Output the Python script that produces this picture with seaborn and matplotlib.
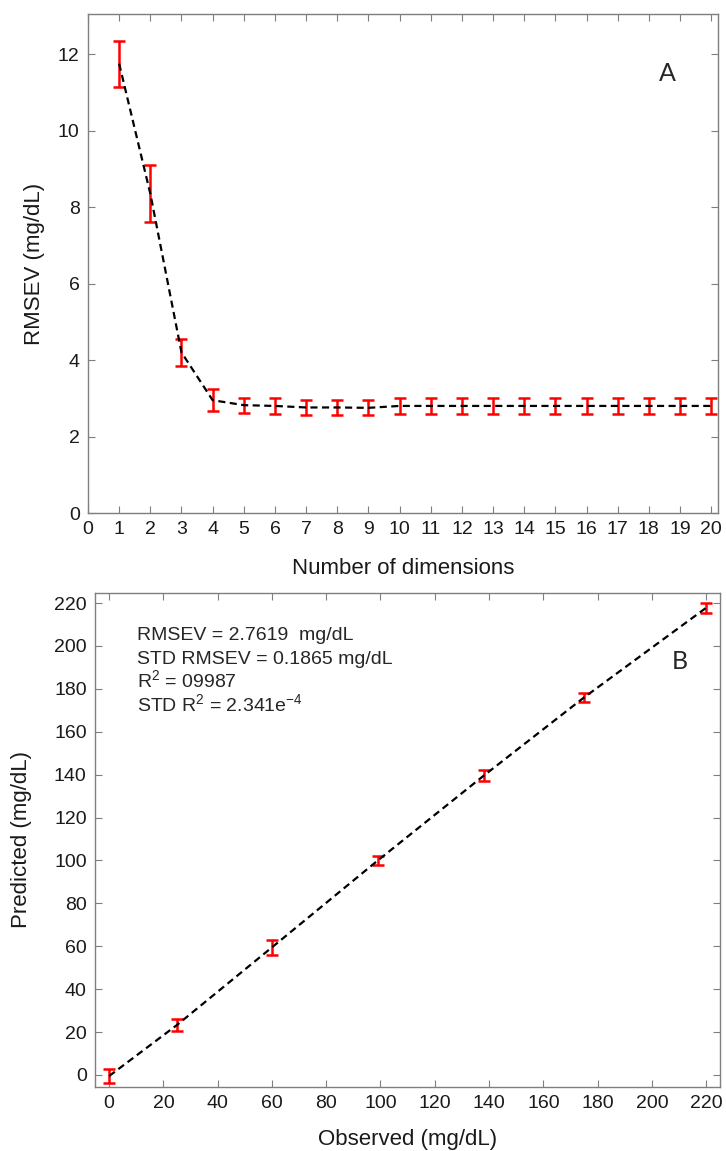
import numpy as np
import pandas as pd
import matplotlib
matplotlib.use("Agg")
import matplotlib.pyplot as plt
import seaborn as sns

# ---- data: panel A ----
dims = list(range(1, 21))
rmsev = [11.75, 8.35, 4.2, 2.95, 2.82, 2.8, 2.76, 2.76, 2.75, 2.8,
         2.8, 2.8, 2.8, 2.8, 2.8, 2.8, 2.8, 2.8, 2.8, 2.8]
rmsev_err = [0.6, 0.75, 0.35, 0.28, 0.2, 0.2, 0.2, 0.2, 0.2, 0.2,
             0.2, 0.2, 0.2, 0.2, 0.2, 0.2, 0.2, 0.2, 0.2, 0.2]
xticks_a = list(range(0, 21))
yticks_a = [0, 2, 4, 6, 8, 10, 12]

# ---- data: panel B ----
observed = [0, 25, 60, 99, 138, 175, 220]
predicted = [-0.5, 23.3, 59.5, 100.0, 139.5, 176.0, 217.8]
pred_err = [3.2, 2.8, 3.5, 2.2, 2.5, 2.3, 2.3]
ticks_b = list(range(0, 221, 20))

annot_lines = ["RMSEV = 2.7619  mg/dL",
               "STD RMSEV = 0.1865 mg/dL",
               "R$^{2}$ = 09987",
               "STD R$^{2}$ = 2.341e$^{-4}$"]

sns.set_theme(style="ticks")
plt.rcParams["font.family"] = ["Liberation Sans", "DejaVu Sans"]
plt.rcParams["mathtext.fontset"] = "custom"
plt.rcParams["mathtext.rm"] = "Liberation Sans"
plt.rcParams["mathtext.it"] = "Liberation Sans:italic"
plt.rcParams["mathtext.bf"] = "Liberation Sans:bold"

spine_col = "#7f7f7f"
dash = (0, (3.2, 2.0))
fig = plt.figure(figsize=(7.26, 11.51), dpi=100)
axA = fig.add_axes([88/726, 1-513/1151, (718-88)/726, (513-14)/1151])
axB = fig.add_axes([95/726, 1-1087/1151, (720-95)/726, (1087-593)/1151])

dfA = pd.DataFrame({"dim": dims, "rmsev": rmsev})
sns.lineplot(data=dfA, x="dim", y="rmsev", ax=axA, color="black",
             linestyle=dash, linewidth=1.6, zorder=3)
axA.errorbar(dims, rmsev, yerr=rmsev_err, fmt="none", ecolor="#ff0000",
             elinewidth=1.8, capsize=4.5, capthick=1.8, zorder=2)
axA.set_xlim(0, 20.22)
axA.set_ylim(0, 13.05)
axA.set_xticks(xticks_a)
axA.set_yticks(yticks_a)
axA.set_xlabel("Number of dimensions", fontsize=16, labelpad=14)
axA.set_ylabel("RMSEV (mg/dL)", fontsize=16, labelpad=9)
axA.text(0.92, 0.88, "A", transform=axA.transAxes, fontsize=18,
         family=["Lato", "DejaVu Sans"], ha="center", va="center")

dfB = pd.DataFrame({"obs": observed, "pred": predicted})
sns.lineplot(data=dfB, x="obs", y="pred", ax=axB, color="black",
             linestyle=dash, linewidth=1.6, zorder=3)
axB.errorbar(observed, predicted, yerr=pred_err, fmt="none", ecolor="#ff0000",
             elinewidth=1.8, capsize=4.5, capthick=1.8, zorder=2)
axB.set_xlim(-5.2, 225.1)
axB.set_ylim(-5.6, 224.7)
axB.set_xticks(ticks_b)
axB.set_yticks(ticks_b)
axB.set_xlabel("Observed (mg/dL)", fontsize=16, labelpad=12)
axB.set_ylabel("Predicted (mg/dL)", fontsize=16, labelpad=16)
baselines = [640, 664, 687, 711]
for line, yb in zip(annot_lines, baselines):
    axB.text(0.067, 1 - (yb - 593) / 494, line, transform=axB.transAxes,
             fontsize=14, ha="left", va="baseline")
axB.text(0.936, 0.862, "B", transform=axB.transAxes, fontsize=18,
         family=["Lato", "DejaVu Sans"], ha="center", va="center")

for ax in (axA, axB):
    for s in ax.spines.values():
        s.set_color(spine_col)
        s.set_linewidth(1.0)
        s.set_visible(True)
    ax.tick_params(direction="in", length=5, width=0.8, color=spine_col,
                   labelsize=14, top=True, right=True, pad=6,
                   labelcolor="#1a1a1a")
    ax.xaxis.label.set_color("#1a1a1a")
    ax.yaxis.label.set_color("#1a1a1a")

fig.savefig("out.png", dpi=100)
